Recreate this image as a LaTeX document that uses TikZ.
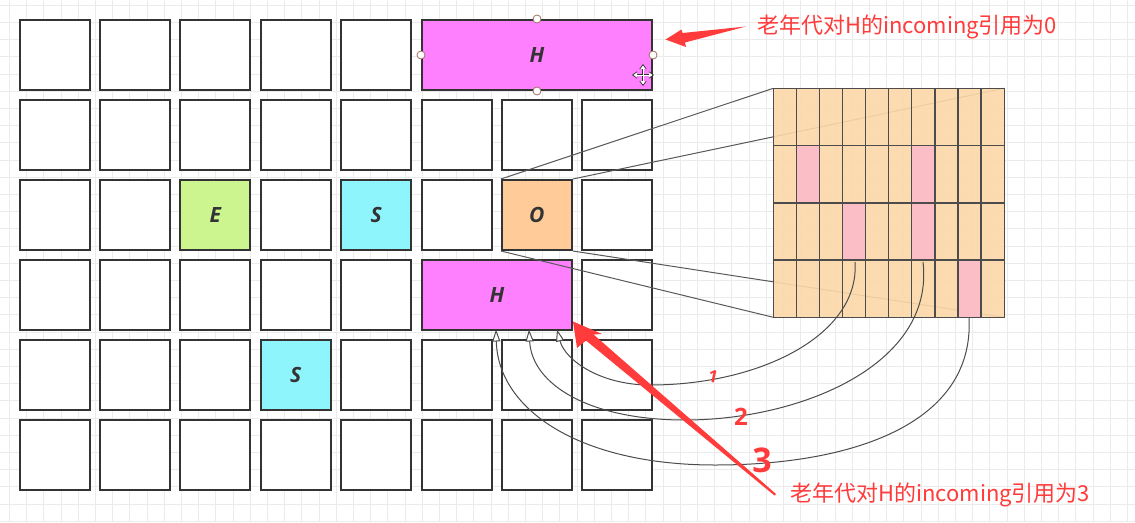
\documentclass[tikz,border=0pt]{standalone}
\usepackage{fontspec}
\setsansfont{Open Sans}
\newfontfamily\cjk{Noto Sans CJK SC}
\usetikzlibrary{arrows.meta,calc}
\definecolor{gridc}{HTML}{EBEBEB}
\definecolor{edgec}{HTML}{333333}
\definecolor{hfill}{HTML}{FF80FF}
\definecolor{efill}{HTML}{CCF590}
\definecolor{sfill}{HTML}{8EF5FC}
\definecolor{ofill}{HTML}{FFCC99}
\definecolor{cardc}{HTML}{FDD8A8}
\definecolor{pinkc}{HTML}{FBBDC6}
\definecolor{annot}{HTML}{FF3B3B}
\definecolor{handlec}{HTML}{A07060}
\tikzset{
  cellbox/.style={draw=edgec, line width=2pt, fill=white, minimum width=70pt, minimum height=70pt, anchor=north west, inner sep=0pt, font=\sffamily\bfseries\itshape\fontsize{21}{21}\selectfont, text=edgec},
  projline/.style={draw=black!65, line width=1pt},
  refcurve/.style={draw=black!70, line width=1pt, -{Triangle[open, length=12pt, width=8pt, fill=white]}},
  handle/.style={circle, draw=handlec, fill=white, line width=0.8pt, minimum size=8pt, inner sep=0pt},
  note/.style={text=annot, font=\cjk\fontsize{22}{22}\selectfont, anchor=west, inner sep=0pt},
  hand/.style={text=annot, font=\sffamily\bfseries, inner sep=0pt},
  redarrow/.style={fill=annot, draw=none}
}
\begin{document}
\begin{tikzpicture}[x=1pt,y=-1pt]
\useasboundingbox (0,0) rectangle (1135,522);
\fill[white] (0,0) rectangle (1135,522);
% background grid
\foreach \i in {0,...,65} \draw[gridc, line width=0.8pt] ({9.3+17.2*\i},0) -- ({9.3+17.2*\i},522);
\foreach \j in {0,...,30} \draw[gridc, line width=0.8pt] (0,{5.2+17.2*\j}) -- (1135,{5.2+17.2*\j});

% cells
\foreach \r/\cols in {0/{0,1,2,3,4},1/{0,1,2,3,4,5,6,7},2/{0,1,3,5,7},3/{0,1,2,3,4,7},4/{0,1,2,4,5,6,7},5/{0,1,2,3,4,5,6,7}}{
  \foreach \c in \cols {
    \node[cellbox] (c-\r-\c) at ({18.5+80.4*\c},{19+80*\r}) {};
  }
}
\node[cellbox, fill=efill] (cE) at ({18.5+80.4*2},{19+80*2}) {E};
\node[cellbox, fill=sfill] (cS1) at ({18.5+80.4*4},{19+80*2}) {S};
\node[cellbox, fill=ofill] (cO) at ({18.5+80.4*6},{19+80*2}) {O};
\node[cellbox, fill=sfill] (cS2) at ({18.5+80.4*3},{19+80*4}) {S};
\node[cellbox, fill=hfill, minimum width=230pt] (Htop) at (421,19) {H};
\node[cellbox, fill=hfill, minimum width=150pt] (Hmid) at (421,259) {H};

% card table
\coordinate (k-nw) at (773.3,88.3);
\coordinate (k-ne) at (1004,88.3);
\coordinate (k-sw) at (773.3,317.3);
\coordinate (k-se) at (1004,317.3);
\draw[projline] (cO.north west) -- (k-nw);
\draw[projline] (cO.north east) -- (k-ne);
\draw[projline] (cO.south west) -- (k-sw);
\draw[projline] (cO.south east) -- (k-se);
\node[draw=none, fill=cardc, fill opacity=0.9, minimum width=230.7pt, minimum height=229pt, anchor=north west, inner sep=0pt] (card) at (k-nw) {};
\foreach \r/\c in {1/1,1/6,2/3,2/6,3/8}{
  \fill[pinkc] ({773.3+23.07*\c},{88.3+57.25*\r}) rectangle ({773.3+23.07*(\c+1)},{88.3+57.25*(\r+1)});
}
\foreach \c in {1,...,9} \draw[black!70, line width=1.5pt] ({773.3+23.07*\c},88.3) -- ({773.3+23.07*\c},317.3);
\foreach \r in {1,2,3} \draw[black!70, line width=1.5pt] (773.3,{88.3+57.25*\r}) -- (1004,{88.3+57.25*\r});
\draw[black!70, line width=1.5pt] (card.north west) rectangle (card.south east);

% reference curves
\coordinate (p1) at (855,262);
\coordinate (p2) at (923,262);
\coordinate (p3) at (969,317.3);
\coordinate (a1) at (557,329.5);
\coordinate (a2) at (529,329.5);
\coordinate (a3) at (496,329.5);
\draw[refcurve] (p1) .. controls (860,335) and (760,385) .. (650,385) .. controls (600,385) and (565,360) .. (a1);
\draw[refcurve] (p2) .. controls (935,365) and (800,420) .. (685,420) .. controls (590,420) and (532,385) .. (a2);
\draw[refcurve] (p3) .. controls (975,425) and (850,465) .. (715,465) .. controls (580,465) and (498,410) .. (a3);

\node[hand, font=\sffamily\bfseries\fontsize{17}{17}\selectfont, rotate=-12] (n1) at (713,377) {1};
\node[hand, font=\sffamily\bfseries\fontsize{24}{24}\selectfont] (n2) at (741,417) {2};
\node[hand, font=\sffamily\bfseries\fontsize{34}{34}\selectfont] (n3) at (762,460) {3};

% handles and cursor
\node[handle] (h1) at (Htop.north) {};
\node[handle] (h2) at (Htop.south) {};
\node[handle] (h3) at (Htop.west) {};
\node[handle] (h4) at (Htop.east) {};
\coordinate (cur) at (643,75);
\draw[black!80, line width=2.4pt, {Triangle[length=5pt,width=7pt]}-{Triangle[length=5pt,width=7pt]}] ($(cur)+(-11,0)$) -- ($(cur)+(11,0)$);
\draw[black!80, line width=2.4pt, {Triangle[length=5pt,width=7pt]}-{Triangle[length=5pt,width=7pt]}] ($(cur)+(0,-11)$) -- ($(cur)+(0,11)$);
\draw[white, line width=0.9pt, {Triangle[length=3.5pt,width=5pt]}-{Triangle[length=3.5pt,width=5pt]}] ($(cur)+(-9.5,0)$) -- ($(cur)+(9.5,0)$);
\draw[white, line width=0.9pt, {Triangle[length=3.5pt,width=5pt]}-{Triangle[length=3.5pt,width=5pt]}] ($(cur)+(0,-9.5)$) -- ($(cur)+(0,9.5)$);

% annotations
\node[note] (t0) at (757,27) {老年代对H的incoming引用为0};
\node[note] (t3) at (790,495) {老年代对H的incoming引用为3};
\coordinate (tip0) at (665.5,39.5);
\coordinate (tip3) at (573,321.5);
\fill[redarrow] (tip0) -- (681.5,29.5) -- (682.5,33) -- ($(t0.west)+(-11,-0.5)$) -- (685,42.5) -- (686,47) -- cycle;
\fill[redarrow] (tip3) -- (602,334) -- (593.5,334.5) -- ($(t3.west)+(-14,-1)$) -- ($(t3.west)+(-15.5,0.5)$) -- (586,340.5) -- (577,348) -- cycle;
\end{tikzpicture}
\end{document}
